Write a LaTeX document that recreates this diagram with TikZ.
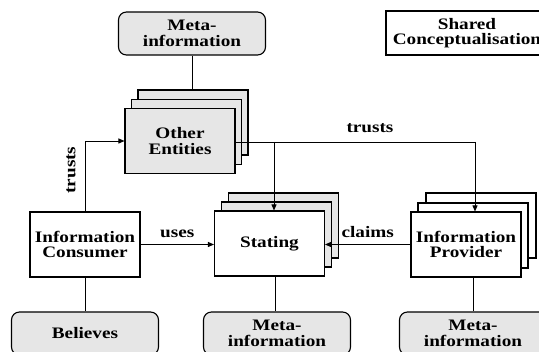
\documentclass[tikz,border=0pt]{standalone}
\usepackage{fontspec}
\setmainfont{Liberation Serif}[FakeStretch=1.2]
\usetikzlibrary{arrows.meta}
\definecolor{boxgray}{HTML}{E6E6E6}
\tikzset{
  txt/.style={font=\bfseries\fontsize{16}{15.5}\selectfont, align=center, inner sep=0pt},
  sbox/.style={txt, draw, line width=1.1pt, minimum width=110pt, minimum height=65pt},
  rbox/.style={txt, draw, line width=1.1pt, rounded corners=8pt, fill=boxgray, minimum width=147pt, minimum height=43pt},
  conn/.style={line width=0.9pt},
  arr/.style={conn, -{Triangle[length=6pt,width=5pt]}},
  lbl/.style={font=\bfseries\fontsize{16}{15.5}\selectfont, inner sep=0pt}
}
\begin{document}
\begin{tikzpicture}[x=1pt,y=-1pt]
\useasboundingbox (0,0) rectangle (539,352);
\clip (0,0) rectangle (539,352);
% top meta-information
\node[rbox] (metatop) at (192,33.5) {Meta-\\information};
% shared conceptualisation
\node[sbox, minimum width=162pt, minimum height=44pt] (shared) at (467,33) {Shared\\Conceptualisation};
% Other Entities stack
\node[sbox, fill=boxgray] (oe3) at (193,122.5) {};
\node[sbox, fill=boxgray] (oe2) at (186.5,132) {};
\node[sbox, fill=boxgray] (oe) at (180,141) {Other\\Entities};
% Stating stack
\node[sbox, fill=boxgray] (st3) at (283.5,225.5) {};
\node[sbox, fill=boxgray] (st2) at (276.5,234.5) {};
\node[sbox, fill=white] (stat) at (269.5,243.5) {Stating};
% Provider stack
\node[sbox, fill=white] (pr3) at (481,225.5) {};
\node[sbox, fill=white] (pr2) at (473,235.5) {};
\node[sbox, fill=white] (prov) at (466,244.5) {Information\\Provider};
% Consumer
\node[sbox, fill=white] (cons) at (85,244.5) {Information\\Consumer};
% bottom boxes
\node[rbox] (believes) at (85,333.5) {Believes};
\node[rbox] (metamid) at (277,333.5) {Meta-\\information};
\node[rbox] (metaright) at (473,333.5) {Meta-\\information};
% connectors
\draw[conn] (metatop.south) -- (metatop.south |- oe3.north);
\draw[arr] (cons.north) |- (oe.west);
\node[lbl, rotate=90] (ltrusts1) at (71,170) {trusts};
\draw[arr] (cons.east) -- (cons.east -| stat.west) node[lbl, midway, above=6pt] (luses) {uses};
\draw[arr] (prov.west) -- (prov.west -| stat.east) node[lbl, midway, above=6pt] (lclaims) {claims};
\coordinate (j) at (274,142);
\coordinate (k) at (475,142);
\draw[conn] (oe.east |- j) -- (k);
\draw[arr] (j) -- (j |- stat.north);
\draw[arr] (k) -- (k |- prov.north);
\node[lbl] (ltrusts2) at (370,128) {trusts};
\draw[conn] (cons.south) -- (cons.south |- believes.north);
\draw[conn] ([xshift=5.5pt]stat.south) -- ([xshift=5.5pt]stat.south |- metamid.north);
\draw[conn] ([xshift=7pt]prov.south) -- ([xshift=7pt]prov.south |- metaright.north);
\end{tikzpicture}
\end{document}
